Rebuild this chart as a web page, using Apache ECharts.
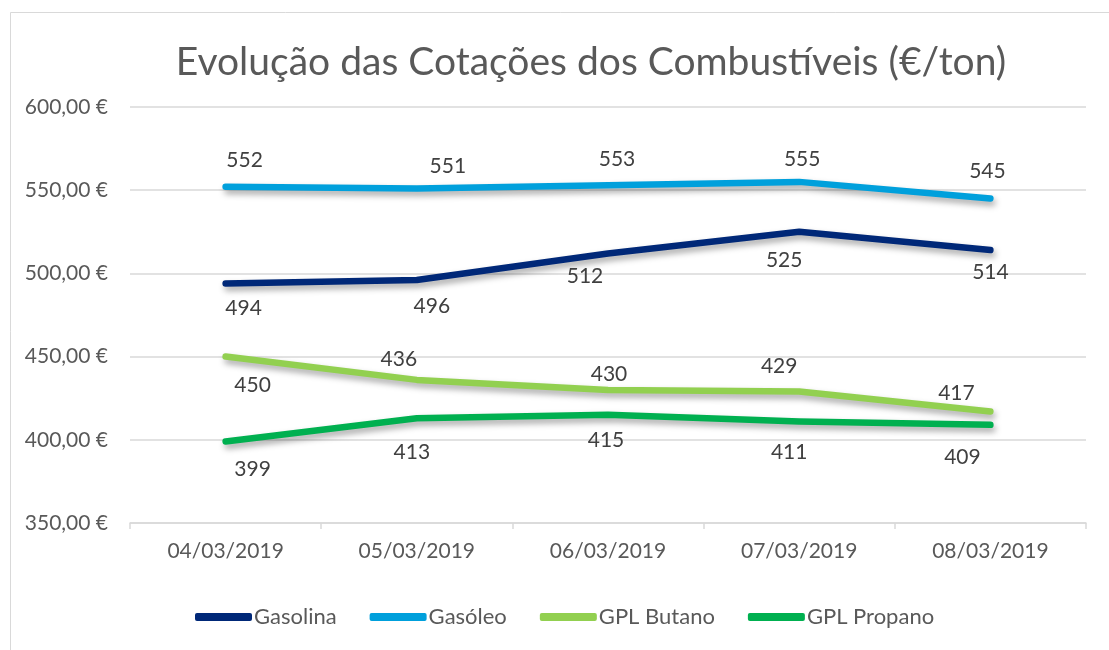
<!DOCTYPE html>
<html>
<head>
<meta charset="utf-8">
<script src="https://cdn.jsdelivr.net/npm/echarts@6/dist/echarts.min.js"></script>
<style>
  html, body { margin: 0; padding: 0; background: #ffffff; }
  #chart { width: 1109px; height: 650px; }
</style>
</head>
<body>
<div id="chart"></div>
<script>
// dados
const dias = ['04/03/2019', '05/03/2019', '06/03/2019', '07/03/2019', '08/03/2019'];
const gasolina = [494, 496, 512, 525, 514];
const gasoleo = [552, 551, 553, 555, 545];
const gplButano = [450, 436, 430, 429, 417];
const gplPropano = [399, 413, 415, 411, 409];

// deslocamento (px) do centro de cada rótulo em relação ao ponto
const offGasolina = [[18, 25], [15, 26], [-23, 23], [-15, 28], [0, 22]];
const offGasoleo = [[19, -27], [31, -22], [9, -26], [3, -23], [-3, -27]];
const offButano = [[27, 29], [-18, -21], [1, -16], [-20, -25], [-34, -18]];
const offPropano = [[27, 28], [-5, 34], [-2, 25], [-10, 31], [-28, 32]];

const fonte = 'Lato, "Open Sans", sans-serif';

function serie(nome, valores, offs, cor) {
  return {
    name: nome,
    type: 'line',
    // símbolo de 2px: caixa começa 1px antes do ponto
    data: valores.map((v, i) => ({
      value: v,
      label: { position: [offs[i][0] + 1, offs[i][1] + 1] }
    })),
    symbol: 'circle',
    symbolSize: 2,
    itemStyle: { color: cor },
    lineStyle: {
      width: 6.5,
      color: cor,
      cap: 'round',
      join: 'round',
      shadowColor: 'rgba(0,0,0,0.35)',
      shadowBlur: 6,
      shadowOffsetX: 2,
      shadowOffsetY: 4
    },
    label: {
      show: true,
      align: 'center',
      verticalAlign: 'middle',
      color: '#404040',
      fontSize: 21,
      fontFamily: fonte
    },
    emphasis: { disabled: true },
    animation: false
  };
}

const chart = echarts.init(document.getElementById('chart'));
chart.setOption({
  backgroundColor: '#ffffff',
  graphic: [{
    type: 'rect',
    left: 8, top: 10,
    shape: { width: 1200, height: 700 },
    style: { fill: 'none', stroke: '#d9d9d9', lineWidth: 1 },
    silent: true
  }],
  title: {
    text: 'Evolução das Cotações dos Combustíveis (€/ton)',
    left: 586,
    textAlign: 'center',
    top: 38,
    textStyle: { fontSize: 39, fontWeight: 'normal', color: '#595959', fontFamily: fonte }
  },
  grid: { left: 130, right: 23, top: 107, bottom: 127, containLabel: false },
  legend: {
    bottom: 17,
    left: 190,
    itemWidth: 57,
    itemHeight: 8,
    itemGap: 33,
    icon: 'roundRect',
    textStyle: { fontSize: 22, color: '#595959', fontFamily: fonte, padding: [0, 0, 0, -3] },
    data: ['Gasolina', 'Gasóleo', 'GPL Butano', 'GPL Propano']
  },
  xAxis: {
    type: 'category',
    data: dias,
    boundaryGap: true,
    axisLine: { lineStyle: { color: '#d9d9d9', width: 1.5 } },
    axisTick: { show: true, length: 6, lineStyle: { color: '#d9d9d9', width: 1.5 } },
    axisLabel: { fontSize: 21, color: '#595959', fontFamily: fonte, margin: 18 }
  },
  yAxis: {
    type: 'value',
    min: 350,
    max: 600,
    interval: 50,
    axisLine: { show: false },
    axisTick: { show: false },
    splitLine: { lineStyle: { color: '#d9d9d9', width: 1.5 } },
    axisLabel: {
      fontSize: 21, color: '#595959', fontFamily: fonte, margin: 22,
      formatter: v => v.toFixed(2).replace('.', ',') + ' €'
    }
  },
  series: [
    serie('Gasolina', gasolina, offGasolina, '#002878'),
    serie('Gasóleo', gasoleo, offGasoleo, '#00a0dc'),
    serie('GPL Butano', gplButano, offButano, '#92d050'),
    serie('GPL Propano', gplPropano, offPropano, '#00b050')
  ]
});
</script>
</body>
</html>
